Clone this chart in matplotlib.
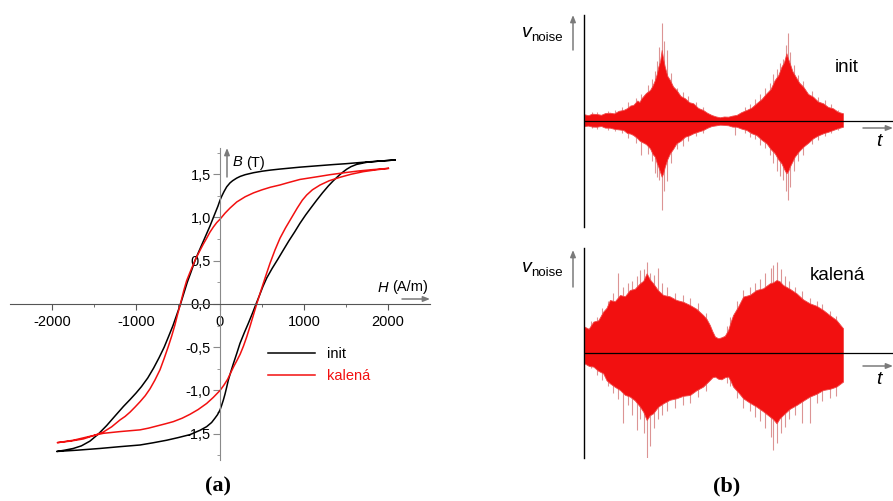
import matplotlib
matplotlib.use("Agg")
import matplotlib.pyplot as plt
from matplotlib.patches import FancyArrowPatch
from matplotlib.ticker import FixedLocator, FuncFormatter

plt.rcParams["font.family"] = ["Liberation Sans", "DejaVu Sans"]
plt.rcParams["axes.unicode_minus"] = False

FIG_W, FIG_H = 893, 501
RED = "#f21010"
FRINGE = "#dc9494"
ARROW_GRAY = "#7a7a7a"

# --- hysteresis loops, H in A/m, B in T ---
init_desc_h = [2083, 1900, 1746, 1500, 1349, 1150, 952, 800, 714, 600, 500, 400, 300, 240, 198, 150,
               119, 80, 48, 20, 0, -25, -50, -79, -120, -165, -210, -255, -298, -345, -390, -430,
               -470, -515, -560, -612, -665, -725, -790, -860, -935, -1000, -1071, -1150, -1250,
               -1349, -1450, -1548, -1650, -1746, -1850, -1944]
init_desc_b = [1.665, 1.652, 1.642, 1.622, 1.612, 1.597, 1.582, 1.568, 1.56, 1.548, 1.535, 1.518,
               1.495, 1.475, 1.455, 1.425, 1.40, 1.355, 1.30, 1.245, 1.2, 1.13, 1.07, 1.0, 0.9, 0.8,
               0.7, 0.6, 0.5, 0.37, 0.25, 0.125, 0.0, -0.125, -0.25, -0.375, -0.5, -0.62, -0.74,
               -0.855, -0.955, -1.03, -1.105, -1.185, -1.295, -1.405, -1.505, -1.585, -1.64, -1.67,
               -1.69, -1.705]
init_asc_h = [-1944, -1700, -1429, -1200, -952, -800, -635, -500, -357, -238, -159, -100, -60, -30,
              0, 20, 40, 60, 80, 99, 130, 159, 200, 238, 290, 337, 385, 429, 470, 510, 556, 620,
              690, 754, 820, 890, 952, 1020, 1085, 1151, 1220, 1290, 1349, 1420, 1470, 1508, 1560,
              1627, 1746, 1900, 2083]
init_asc_b = [-1.705, -1.69, -1.67, -1.65, -1.63, -1.605, -1.575, -1.545, -1.51, -1.46, -1.418,
              -1.37, -1.32, -1.28, -1.225, -1.17, -1.11, -1.04, -0.96, -0.88, -0.78, -0.69, -0.57,
              -0.455, -0.33, -0.224, -0.11, 0.0, 0.1, 0.2, 0.3, 0.41, 0.52, 0.624, 0.73, 0.835,
              0.933, 1.03, 1.115, 1.2, 1.285, 1.365, 1.425, 1.49, 1.53, 1.558, 1.588, 1.614, 1.638,
              1.652, 1.665]

kal_desc_h = [2004, 1800, 1650, 1500, 1310, 1150, 952, 800, 714, 600, 500, 400, 300, 200, 120, 60,
              0, -40, -79, -120, -159, -200, -238, -280, -317, -360, -397, -430, -456, -480, -505,
              -536, -575, -615, -665, -714, -775, -833, -890, -952, -1010, -1071, -1130, -1190,
              -1290, -1389, -1500, -1627, -1780, -1937]
kal_desc_b = [1.568, 1.552, 1.538, 1.52, 1.495, 1.47, 1.44, 1.40, 1.376, 1.35, 1.32, 1.285, 1.24,
              1.18, 1.11, 1.05, 0.98, 0.94, 0.89, 0.83, 0.76, 0.69, 0.62, 0.54, 0.46, 0.36, 0.27,
              0.16, 0.06, -0.03, -0.12, -0.24, -0.37, -0.49, -0.63, -0.76, -0.88, -0.98, -1.06,
              -1.13, -1.19, -1.25, -1.30, -1.34, -1.42, -1.48, -1.52, -1.56, -1.585, -1.603]
kal_asc_h = [-1937, -1746, -1550, -1389, -1190, -952, -850, -750, -650, -556, -450, -357, -260,
             -159, -80, 0, 45, 91, 130, 165, 198, 240, 278, 318, 357, 397, 437, 476, 516, 555, 595,
             655, 714, 780, 853, 920, 980, 1032, 1100, 1190, 1300, 1429, 1560, 1706, 1850, 2004]
kal_asc_b = [-1.603, -1.575, -1.53, -1.495, -1.475, -1.455, -1.435, -1.41, -1.385, -1.36, -1.32,
             -1.275, -1.22, -1.15, -1.08, -1.0, -0.94, -0.87, -0.79, -0.72, -0.66, -0.58, -0.49,
             -0.38, -0.26, -0.13, 0.0, 0.12, 0.24, 0.355, 0.47, 0.625, 0.76, 0.88, 1.0, 1.11,
             1.2, 1.26, 1.32, 1.375, 1.425, 1.465, 1.50, 1.53, 1.55, 1.568]

# --- Barkhausen noise (arbitrary units), t in % of the record ---
init_t = [0.0, 1.5, 3.0, 4.8, 6.5, 8.0, 9.9, 11.5, 13.3, 15.1, 16.5, 17.8, 18.9, 20.5, 21.3, 22.1,
          23.8, 25.4, 26.4, 27.3, 28.0, 28.6, 29.3, 29.9, 30.5, 31.1, 32.1, 33.1, 34.3, 35.6, 37.2,
          38.9, 40.5, 42.1, 44.0, 45.9, 47.5, 49.2, 50.8, 52.4, 54.0, 55.6, 57.2, 58.8, 60.7, 62.7,
          64.6, 66.5, 68.5, 70.4, 72.0, 73.6, 75.0, 76.2, 77.2, 78.1, 78.8, 79.4, 80.4, 81.3, 83.0,
          84.6, 86.5, 88.4, 90.3, 92.3, 94.2, 96.1, 98.0, 100.0]
init_top = [6.7, 5.8, 7.3, 7.0, 6.2, 7.9, 8.3, 7.6, 10.2, 11.0, 12.8, 15.5, 16.0, 20.5, 19.0, 22.7,
            27.9, 31.0, 35.5, 41.0, 47.0, 54.3, 60.0, 71.0, 62.0, 54.3, 45.0, 41.0, 34.5, 31.0,
            25.0, 22.7, 18.8, 17.7, 13.0, 11.0, 8.2, 6.0, 4.6, 3.7, 4.5, 4.3, 5.4, 6.0, 8.9, 11.0,
            13.4, 17.7, 22.0, 27.7, 32.0, 41.0, 46.0, 54.3, 59.0, 67.7, 62.0, 57.7, 50.0, 46.0,
            38.5, 34.3, 27.0, 24.3, 19.5, 17.7, 14.0, 12.7, 9.2, 7.7]
init_bot = [-5.0, -4.6, -5.6, -5.7, -5.0, -6.6, -6.7, -7.8, -8.4, -9.0, -11.9, -12.6, -14.0, -17.2,
            -19.5, -20.7, -23.0, -27.3, -33.0, -35.7, -42.0, -45.7, -51.0, -55.7, -52.0, -45.7,
            -38.0, -32.3, -27.9, -22.3, -19.8, -15.7, -14.4, -12.3, -10.6, -9.0, -6.8, -5.0, -4.4,
            -3.7, -3.9, -4.3, -5.6, -5.7, -7.6, -9.0, -12.2, -14.0, -18.7, -22.3, -28.0, -32.3,
            -38.5, -42.3, -48.0, -52.3, -50.0, -45.7, -40.5, -35.7, -30.0, -25.7, -21.8, -17.3,
            -14.5, -12.3, -10.8, -9.0, -7.2, -5.7]
init_spike_t = [3.0, 5.0, 9.0, 12.0, 14.5, 17.0, 20.0, 22.1, 24.5, 26.0, 27.3, 28.2, 29.0, 30.0,
                30.8, 31.8, 33.5, 36.0, 38.0, 40.0, 43.0, 46.0, 58.2, 62.0, 64.0, 66.0, 68.0, 70.0,
                71.7, 73.0, 74.5, 75.8, 76.8, 77.9, 78.8, 79.6, 81.0, 82.5, 84.6, 88.0, 90.5, 93.0,
                95.5, 98.0]
init_spike_top = [9, 9, 10, 11, 14, 19, 23, 27, 36, 42, 50, 60, 74, 97.7, 80, 71, 48, 33, 29, 25,
                  19, 14, 6, 14, 17, 22, 27, 33, 37.7, 47, 52, 58, 62, 76, 87.7, 69, 56, 46, 40,
                  30, 24, 21, 17, 11]
init_spike_bot = [-7, -8, -9, -10, -12, -17, -22, -34, -33, -40, -52, -56, -59, -89, -70, -60, -42,
                  -28, -25, -20, -15, -12, -14, -12, -16, -18, -24, -27, -34, -42, -50, -55, -59,
                  -70, -79, -66, -50, -40, -34, -23, -19, -15, -12, -9]

kal_t = [0.0, 1.7, 3.5, 5.4, 7.3, 8.6, 9.9, 11.8, 13.8, 15.7, 17.6, 19.5, 21.5, 22.8, 24.1, 25.3,
         26.6, 28.5, 30.5, 33.0, 35.6, 38.2, 40.8, 43.3, 45.9, 47.2, 48.5, 49.5, 50.5, 51.8, 53.0,
         54.3, 55.6, 56.5, 57.5, 59.5, 61.4, 64.0, 66.5, 69.1, 71.7, 73.0, 74.3, 75.5, 76.8, 79.4,
         82.0, 84.5, 87.1, 89.7, 92.3, 94.9, 97.4, 100.0]
kal_top = [26.7, 24.5, 31.7, 33.0, 41.7, 45.5, 53.3, 52.0, 58.3, 57.0, 63.3, 64.5, 70.0, 72.5, 80.0,
           74.0, 70.0, 63.0, 58.3, 57.0, 53.3, 51.5, 48.3, 44.5, 38.3, 34.5, 28.3, 22.0, 16.7, 15.0,
           16.0, 17.5, 23.3, 31.0, 38.3, 47.0, 56.7, 58.5, 63.3, 65.0, 70.0, 71.0, 73.3, 72.0, 68.3,
           64.5, 60.0, 54.0, 50.0, 47.5, 43.3, 38.0, 33.3, 25.0]
kal_bot = [-10.0, -12.5, -13.3, -17.5, -20.0, -27.0, -30.0, -33.5, -36.7, -41.5, -43.3, -47.0,
           -53.3, -58.5, -66.7, -62.0, -60.0, -53.5, -50.0, -46.5, -45.0, -42.5, -41.7, -37.0,
           -33.3, -30.0, -26.7, -24.0, -23.3, -25.5, -26.0, -24.0, -23.3, -27.5, -33.3, -39.0,
           -45.0, -49.5, -53.3, -58.0, -63.3, -66.0, -70.0, -65.0, -61.7, -55.5, -51.7, -47.5,
           -43.3, -40.5, -36.7, -35.5, -33.3, -28.3]
kal_spike_t = [2.5, 5.0, 7.0, 9.0, 11.0, 13.1, 15.1, 16.8, 18.5, 20.2, 21.5, 23.0, 24.1, 25.4, 27.0,
               28.6, 30.0, 32.0, 35.0, 38.0, 41.0, 44.0, 47.0, 55.0, 56.5, 59.0, 61.4, 64.0, 66.0,
               68.0, 70.0, 72.0, 73.0, 74.3, 76.0, 77.5, 79.0, 81.5, 84.0, 87.1, 90.0, 92.0, 95.0,
               97.4]
kal_spike_top = [32, 36, 45, 52, 60, 80, 66, 70, 72, 77, 83, 84, 91.7, 80, 78, 85, 70, 66, 60, 58,
                 55, 50, 40, 27, 36, 52, 63, 66, 70, 74, 80, 85, 88, 91.7, 84, 77, 72, 66, 62, 55,
                 52, 49, 42, 37]
kal_spike_bot = [-15, -22, -27, -33, -40, -46, -70, -52, -62, -77, -66, -80, -106.7, -93, -75, -66,
                 -62, -58, -55, -52, -50, -44, -38, -30, -33, -45, -55, -58, -64, -68, -75, -84,
                 -96.7, -90, -80, -74, -66, -62, -70, -70, -50, -48, -45, -43]


def fx(x):
    return x / FIG_W


def fy(y):
    return 1 - y / FIG_H


def arrow(fig, x0, y0, x1, y1):
    fig.add_artist(FancyArrowPatch(
        (fx(x0), fy(y0)), (fx(x1), fy(y1)), transform=fig.transFigure,
        arrowstyle="-|>,head_length=4,head_width=1.6", color=ARROW_GRAY, lw=1.1,
        shrinkA=0, shrinkB=0))


fig = plt.figure(figsize=(FIG_W / 100, FIG_H / 100), dpi=100)

# ---------------- (a) hysteresis ----------------
ax = fig.add_axes([fx(10), fy(459.7), 420 / FIG_W, 311.4 / FIG_H])
ax.set_xlim(-2500, 2500)
ax.set_ylim(-1.8, 1.8)
ax.plot(init_desc_h + init_asc_h, init_desc_b + init_asc_b, color="black", lw=1.1, label="init")
ax.plot(kal_desc_h + kal_asc_h, kal_desc_b + kal_asc_b, color=RED, lw=1.1, label="kalená")

for s in ["top", "right"]:
    ax.spines[s].set_visible(False)
ax.spines["left"].set_position(("data", 0))
ax.spines["bottom"].set_position(("data", 0))
ax.spines["left"].set_color("#8a8a8a")
ax.spines["bottom"].set_color("#555555")
ax.xaxis.set_major_locator(FixedLocator([-2000, -1000, 0, 1000, 2000]))
ax.xaxis.set_minor_locator(FixedLocator([-1500, -500, 500, 1500]))
ax.yaxis.set_major_locator(FixedLocator([-1.5, -1.0, -0.5, 0.0, 0.5, 1.0, 1.5]))
ax.yaxis.set_minor_locator(FixedLocator([-1.75, -1.25, -0.75, -0.25, 0.25, 0.75, 1.25, 1.75]))
ax.yaxis.set_major_formatter(FuncFormatter(lambda v, p: f"{v:.1f}".replace(".", ",")))
ax.tick_params(axis="x", which="major", direction="out", length=4, pad=4, labelsize=10.5,
               color="#555555")
ax.tick_params(axis="x", which="minor", direction="out", length=2.5, color="#555555")
ax.tick_params(axis="y", which="major", direction="out", length=5, pad=1.5, labelsize=10.5,
               color="#8a8a8a")
ax.tick_params(axis="y", which="minor", direction="out", length=2.5, color="#8a8a8a")
ax.patch.set_alpha(0)

ax.legend(loc="upper left", bbox_to_anchor=(fx(268), fy(347)), bbox_transform=fig.transFigure,
          frameon=False, fontsize=10.5, handlelength=3.2, handletextpad=0.85, labelspacing=0.55,
          labelcolor="linecolor", borderpad=0, borderaxespad=0)

arrow(fig, 227, 177, 227, 148)
fig.text(fx(233), fy(162.5), "B", fontsize=10.5, style="italic", va="center", ha="left")
fig.text(fx(246), fy(162.5), "(T)", fontsize=10.5, va="center", ha="left")
arrow(fig, 402, 299, 430, 299)
fig.text(fx(378), fy(287.5), "H", fontsize=10.5, style="italic", va="center", ha="left")
fig.text(fx(392.5), fy(287.5), "(A/m)", fontsize=10.5, va="center", ha="left")
fig.text(fx(218), fy(486), "(a)", fontsize=16, weight="bold", family="Liberation Serif",
         ha="center", va="center")


# ---------------- (b) Barkhausen noise ----------------
def noise_panel(rect, ylim, t, top, bot, spike_t, spike_top, spike_bot):
    a = fig.add_axes(rect)
    a.set_xlim(0, 119.3)
    a.set_ylim(*ylim)
    a.vlines(spike_t, spike_bot, spike_top, color=FRINGE, lw=0.8, zorder=1)
    a.fill_between(t, bot, top, color=RED, lw=0.6, edgecolor="#f04a4a", zorder=2)
    a.axhline(0, color="black", lw=0.9, zorder=3)
    for s in ["top", "right", "bottom"]:
        a.spines[s].set_visible(False)
    a.spines["left"].set_linewidth(1.0)
    a.set_xticks([])
    a.set_yticks([])
    a.patch.set_alpha(0)
    return a


noise_panel([fx(584.3), fy(227), (FIG_W - 584.3) / FIG_W, 212 / FIG_H], (-106, 106),
            init_t, init_top, init_bot, init_spike_t, init_spike_top, init_spike_bot)
noise_panel([fx(584.3), fy(458.3), (FIG_W - 584.3) / FIG_W, 210 / FIG_H], (-105, 105),
            kal_t, kal_top, kal_bot, kal_spike_t, kal_spike_top, kal_spike_bot)

for y_base, y_arrow0, y_arrow1, y_t, y_ta in [(37, 50, 15, 128, 142), (272, 287, 250, 366, 380)]:
    fig.text(fx(522), fy(y_base), "v", fontsize=14, style="italic", va="baseline", ha="left")
    fig.text(fx(531.5), fy(y_base + 4), "noise", fontsize=9.5, va="baseline", ha="left")
    arrow(fig, 573, y_arrow0, 573, y_arrow1)
    arrow(fig, 863, y_t, 893, y_t)
    fig.text(fx(879), fy(y_ta), "t", fontsize=14, style="italic", va="center", ha="center")

fig.text(fx(835), fy(68), "init", fontsize=13.5, va="center", ha="left")
fig.text(fx(810), fy(275), "kalená", fontsize=13.5, va="center", ha="left")
fig.text(fx(727), fy(486), "(b)", fontsize=16, weight="bold", family="Liberation Serif",
         ha="center", va="center")

fig.savefig("out.png", dpi=100)
